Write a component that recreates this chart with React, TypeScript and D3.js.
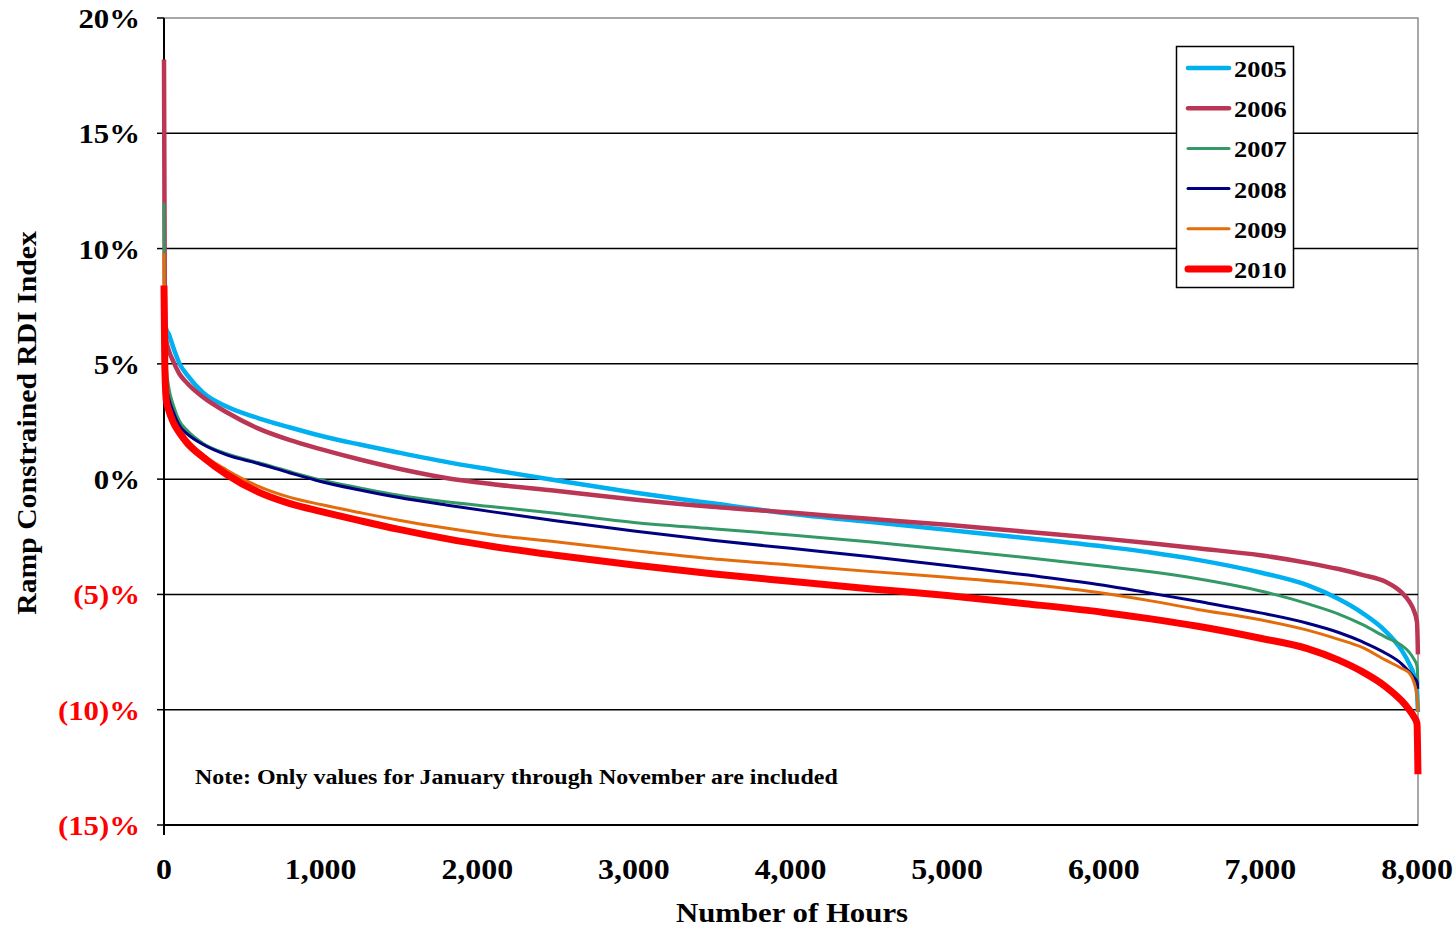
import { useEffect, useRef } from "react";
import * as d3 from "d3";

// hours along the duration curve (shared by all years)
const hours = [0, 5, 15, 30, 60, 100, 150, 250, 400, 600, 800, 1000, 1250, 1500, 1800, 2100, 2500, 3000, 3500, 4000, 4500, 5000, 5500, 6000, 6300, 6600, 7000, 7300, 7500, 7650, 7800, 7900, 7950, 7980, 8000, 8006];

const y2005 = [7.0, 6.8, 6.5, 6.3, 5.7, 5.0, 4.5, 3.75, 3.15, 2.65, 2.25, 1.88, 1.5, 1.15, 0.75, 0.4, -0.05, -0.58, -1.05, -1.5, -1.85, -2.2, -2.55, -2.92, -3.18, -3.5, -4.05, -4.6, -5.2, -5.8, -6.6, -7.4, -8.0, -8.5, -9.2, -10.1];
const y2006 = [18.2, 8.0, 6.0, 5.6, 5.1, 4.55, 4.15, 3.55, 2.9, 2.2, 1.7, 1.3, 0.85, 0.45, 0.05, -0.22, -0.5, -0.88, -1.2, -1.45, -1.72, -1.98, -2.28, -2.58, -2.78, -3.0, -3.3, -3.63, -3.9, -4.15, -4.45, -4.9, -5.3, -5.7, -6.2, -7.6];
const y2007 = [12.0, 6.0, 4.8, 4.0, 3.2, 2.5, 2.1, 1.55, 1.1, 0.72, 0.33, -0.03, -0.38, -0.7, -0.98, -1.2, -1.48, -1.88, -2.15, -2.42, -2.72, -3.05, -3.4, -3.78, -4.02, -4.32, -4.85, -5.4, -5.85, -6.3, -6.85, -7.2, -7.5, -7.8, -8.1, -8.95];
const y2008 = [5.5, 4.5, 4.0, 3.5, 2.9, 2.3, 1.95, 1.5, 1.05, 0.68, 0.28, -0.1, -0.47, -0.8, -1.12, -1.42, -1.8, -2.25, -2.65, -3.0, -3.35, -3.75, -4.15, -4.6, -4.95, -5.3, -5.8, -6.25, -6.65, -7.05, -7.55, -8.0, -8.35, -8.6, -8.8, -9.1];
const y2009 = [9.8, 5.0, 3.7, 3.2, 2.6, 2.1, 1.7, 1.05, 0.4, -0.3, -0.78, -1.1, -1.45, -1.78, -2.12, -2.42, -2.72, -3.1, -3.45, -3.72, -4.0, -4.25, -4.55, -4.95, -5.28, -5.65, -6.1, -6.55, -6.95, -7.3, -7.85, -8.2, -8.4, -8.8, -9.4, -10.1];
const y2010 = [8.4, 5.0, 3.4, 3.0, 2.45, 2.0, 1.55, 0.95, 0.2, -0.55, -1.05, -1.4, -1.8, -2.18, -2.58, -2.92, -3.3, -3.72, -4.1, -4.43, -4.75, -5.05, -5.4, -5.78, -6.06, -6.38, -6.9, -7.35, -7.85, -8.35, -9.0, -9.6, -10.0, -10.3, -10.6, -12.8];

const seriesNames = ["2005", "2006", "2007", "2008", "2009", "2010"];
const seriesValues = [y2005, y2006, y2007, y2008, y2009, y2010];
const seriesColors = ["#00B0F0", "#BB3554", "#339966", "#000080", "#E46C0A", "#FF0000"];
const seriesWidths = [4.5, 4.5, 3, 3, 3, 7];

const yTicks = [20, 15, 10, 5, 0, -5, -10, -15];
const xTicks = [0, 1000, 2000, 3000, 4000, 5000, 6000, 7000, 8000];

const fmtY = (v: number) => (v < 0 ? `(${-v})%` : `${v}%`);
const fmtX = d3.format(",");

export default function App() {
  const svgRef = useRef<SVGSVGElement>(null);

  useEffect(() => {
    if (!svgRef.current) return;
    const svg = d3.select(svgRef.current);
    svg.selectAll("*").remove();

    const font = "'Liberation Serif', 'Times New Roman', serif";
    const stretch = 1.1; // the original text is a bit wider than Times
    const x = d3.scaleLinear().domain([0, 8000]).range([164, 1417]);
    const y = d3.scaleLinear().domain([-15, 20]).range([825, 18]);

    // plot area border
    svg.append("rect")
      .attr("x", x(0)).attr("y", y(20))
      .attr("width", x(8000) - x(0) + 1).attr("height", y(-15) - y(20))
      .attr("fill", "none").attr("stroke", "#8c8c8c").attr("stroke-width", 1.5);

    // gridlines
    svg.selectAll("line.grid")
      .data(yTicks.filter(t => t !== 20 && t !== -15))
      .enter().append("line")
      .attr("x1", x(0)).attr("x2", x(8000) + 1)
      .attr("y1", d => y(d)).attr("y2", d => y(d))
      .attr("stroke", "#000").attr("stroke-width", 1.5);

    // y axis
    svg.append("line")
      .attr("x1", x(0)).attr("x2", x(0))
      .attr("y1", y(20)).attr("y2", y(-15) + 10)
      .attr("stroke", "#000").attr("stroke-width", 2);
    svg.selectAll("line.ytick")
      .data(yTicks).enter().append("line")
      .attr("x1", x(0) - 7).attr("x2", x(0))
      .attr("y1", d => y(d)).attr("y2", d => y(d))
      .attr("stroke", "#000").attr("stroke-width", 1.5);
    svg.selectAll("text.ylab")
      .data(yTicks).enter().append("text")
      .attr("transform", d => `translate(140,${y(d) + 10}) scale(${stretch},1)`)
      .attr("text-anchor", "end")
      .attr("font-family", font).attr("font-weight", "bold").attr("font-size", 28)
      .attr("fill", d => (d < 0 ? "#FF0000" : "#000"))
      .text(d => fmtY(d));

    // x axis
    svg.append("line")
      .attr("x1", x(0)).attr("x2", x(8000) + 1)
      .attr("y1", y(-15)).attr("y2", y(-15))
      .attr("stroke", "#000").attr("stroke-width", 2);
    svg.selectAll("text.xlab")
      .data(xTicks).enter().append("text")
      .attr("transform", d => `translate(${x(d)},879) scale(${stretch},1)`)
      .attr("text-anchor", "middle")
      .attr("font-family", font).attr("font-weight", "bold").attr("font-size", 29)
      .attr("fill", "#000")
      .text(d => fmtX(d));

    // axis titles
    svg.append("text")
      .attr("transform", `translate(792,922) scale(${stretch},1)`)
      .attr("text-anchor", "middle")
      .attr("font-family", font).attr("font-weight", "bold").attr("font-size", 28)
      .text("Number of Hours");
    svg.append("text")
      .attr("transform", `translate(36,423) rotate(-90) scale(${stretch},1)`)
      .attr("text-anchor", "middle")
      .attr("font-family", font).attr("font-weight", "bold").attr("font-size", 27)
      .text("Ramp Constrained RDI Index");

    // note
    svg.append("text")
      .attr("transform", `translate(195,784) scale(1.09,1)`)
      .attr("font-family", font).attr("font-weight", "bold").attr("font-size", 22)
      .text("Note: Only values for January through November are included");

    // lines
    const line = d3.line<[number, number]>()
      .x(d => x(d[0]))
      .y(d => y(d[1]))
      .curve(d3.curveMonotoneX);

    seriesNames.forEach((name, i) => {
      const pts = hours.map((h, j) => [h, seriesValues[i][j]] as [number, number]);
      svg.append("path")
        .attr("fill", "none")
        .attr("stroke", seriesColors[i])
        .attr("stroke-width", seriesWidths[i])
        .attr("stroke-linejoin", "round")
        .attr("d", line(pts));
    });

    // legend
    const lg = svg.append("g");
    lg.append("rect")
      .attr("x", 1176.5).attr("y", 46.5).attr("width", 117).attr("height", 241)
      .attr("fill", "#fff").attr("stroke", "#000").attr("stroke-width", 1.5);
    seriesNames.forEach((name, i) => {
      const ly = 68 + i * 40.2;
      lg.append("line")
        .attr("x1", 1188).attr("x2", 1229)
        .attr("y1", ly).attr("y2", ly)
        .attr("stroke", seriesColors[i])
        .attr("stroke-width", seriesWidths[i])
        .attr("stroke-linecap", "round");
      lg.append("text")
        .attr("transform", `translate(1234,${ly + 9}) scale(${stretch},1)`)
        .attr("font-family", font).attr("font-weight", "bold").attr("font-size", 24)
        .text(name);
    });
  }, []);

  return (
    <svg
      ref={svgRef}
      width={1456}
      height={928}
      style={{ position: "absolute", left: 0, top: 0, background: "#fff" }}
    />
  );
}
